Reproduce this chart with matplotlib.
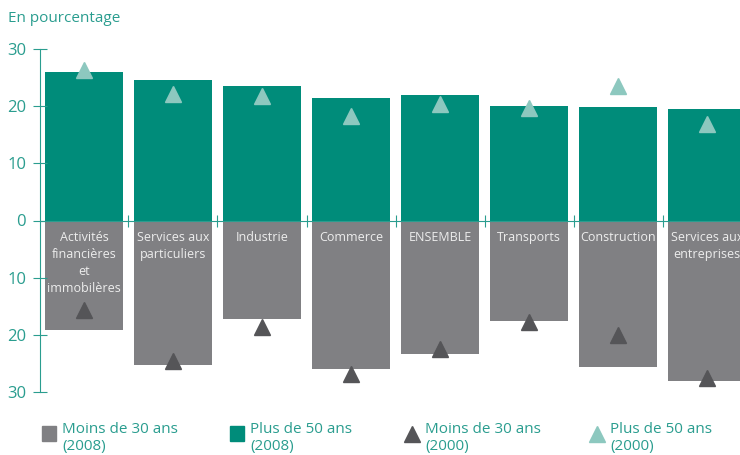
import numpy as np
import matplotlib.pyplot as plt
from matplotlib.lines import Line2D
from matplotlib.patches import Rectangle

plt.rcParams['font.family'] = ['Open Sans', 'DejaVu Sans']

categories = ["Activités\nfinancières\net\nimmobilères", "Services aux\nparticuliers", "Industrie",
              "Commerce", "ENSEMBLE", "Transports", "Construction", "Services aux\nentreprises"]
plus50_2008 = [25.9, 24.5, 23.6, 21.5, 22.0, 20.1, 19.9, 19.5]
moins30_2008 = [19.2, 25.2, 17.2, 26.0, 23.3, 17.5, 25.7, 28.0]
plus50_2000 = [26.4, 22.2, 21.8, 18.3, 20.4, 19.7, 23.6, 16.8]
moins30_2000 = [15.6, 24.5, 18.7, 26.9, 22.5, 17.8, 20.0, 27.6]
yticks = [-30, -20, -10, 0, 10, 20, 30]

green = '#008C7A'
grey = '#808083'
dark = '#555558'
light = '#8DC8BF'
teal = '#2A9D8F'

fig = plt.figure(figsize=(7.4, 4.55), dpi=100)
ax = fig.add_axes([40/740, 63/455, 700/740, 343/455])

x = np.arange(len(categories))
ax.bar(x, plus50_2008, width=0.876, color=green, zorder=1)
ax.bar(x, -np.array(moins30_2008), width=0.876, color=grey, zorder=1)
ax.plot(x, plus50_2000, ls='none', marker='^', ms=12, color=light, zorder=3, clip_on=False)
ax.plot(x, -np.array(moins30_2000), ls='none', marker='^', ms=12, color=dark, zorder=3, clip_on=False)

for i, c in enumerate(categories):
    ax.text(i, -1.9, c, ha='center', va='top', fontsize=9, color='#EDEDED',
            linespacing=1.4, zorder=4)

ax.set_xlim(-0.494, 7.37)
ax.set_ylim(-30, 30)
for s in ['top', 'right']:
    ax.spines[s].set_visible(False)
ax.spines['bottom'].set_position(('data', 0))
ax.spines['bottom'].set_color(teal)
ax.spines['left'].set_color(teal)
ax.spines['bottom'].set_zorder(2)
ax.set_xticks(x[:-1] + 0.5)
ax.set_xticklabels([])
ax.tick_params(axis='x', direction='inout', length=9, color=teal)
ax.set_yticks(yticks)
ax.set_yticklabels([str(abs(v)) for v in yticks])
ax.tick_params(axis='y', direction='inout', length=10, color=teal, labelcolor=teal,
               labelsize=12, pad=5)

fig.text(8/740, 1 - 18/455, "En pourcentage", fontsize=11, color=teal, va='center', ha='left')

# legende manuelle
leg_x = [42, 230, 405, 590]
leg_labels = ["Moins de 30 ans\n(2008)", "Plus de 50 ans\n(2008)",
              "Moins de 30 ans\n(2000)", "Plus de 50 ans\n(2000)"]
for k, (lx, lab) in enumerate(zip(leg_x, leg_labels)):
    if k < 2:
        col = grey if k == 0 else green
        fig.add_artist(Rectangle((lx/740, 1 - 441/455), 14/740, 15/455,
                                 color=col, transform=fig.transFigure))
    else:
        col = dark if k == 2 else light
        fig.add_artist(Line2D([(lx + 7)/740], [1 - 434/455], marker='^', ms=12,
                              color=col, transform=fig.transFigure))
    fig.text((lx + 20)/740, 1 - 438/455, lab, fontsize=11, color=teal,
             va='center', ha='left', linespacing=1.25)

fig.savefig('out.png', dpi=100)
